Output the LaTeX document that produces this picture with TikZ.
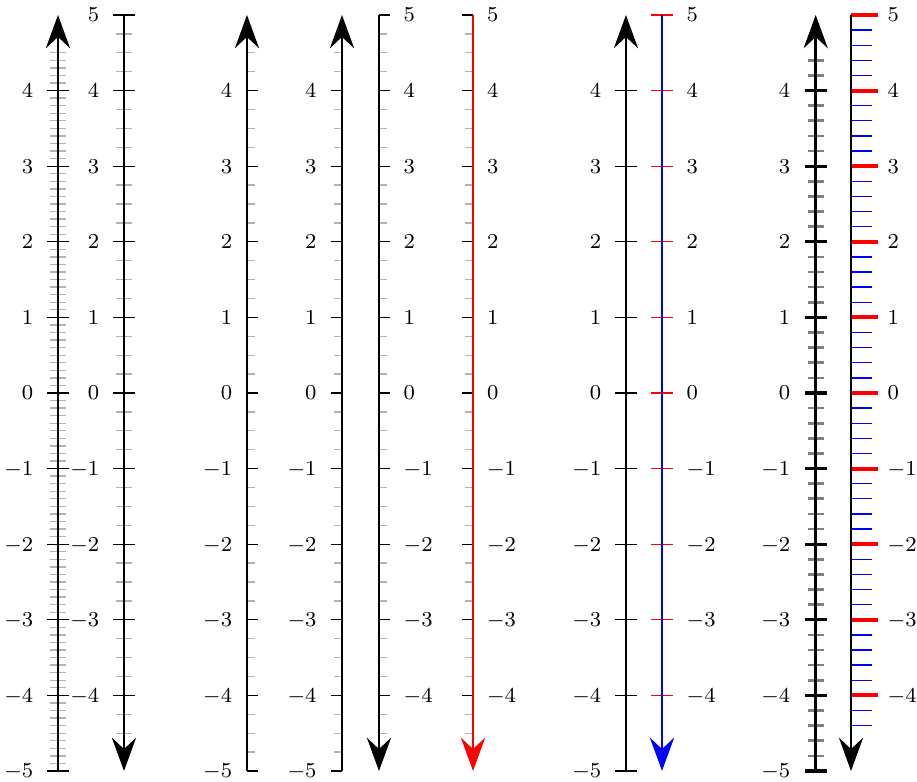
\documentclass[tikz,border=0pt]{standalone}
\usepackage{amsmath}
\usetikzlibrary{arrows.meta}

\begin{document}
\begin{tikzpicture}[
  axisline/.style={line width=1pt},
  tip/.style={-{Stealth[length=4.4mm,width=3.2mm,inset=1.5mm]}},
  major/.style={line width=0.5pt},
  minor/.style={gray!60,line width=0.5pt},
  lbl/.style={font=\footnotesize,inner sep=0pt,text depth=0pt}]
  \useasboundingbox (0,-5.146) rectangle (12.13,5.198);
  % 1: tenths on both sides, arrow up
  \foreach \i in {-49,...,45} {\draw[minor] (0.662,\i/10) -- (0.872,\i/10);}
  \foreach \y in {-5,...,4} {\draw[major] (0.627,\y) -- (0.907,\y);
    \node[lbl,anchor=east] (a\y) at (0.447,\y) {$\y$};}
  \coordinate (a1) at (0.767,-5); \coordinate (a2) at (0.767,5);
  \draw[axisline,tip] (a1) -- (a2);
  % 2: quarters on both sides, arrow down
  \foreach \i in {-18,...,19} {\draw[minor] (1.535,\i/4) -- (1.745,\i/4);}
  \foreach \y in {-4,...,5} {\draw[major] (1.495,\y) -- (1.785,\y);
    \node[lbl,anchor=east] (b\y) at (1.320,\y) {$\y$};}
  \coordinate (b1) at (1.640,5); \coordinate (b2) at (1.640,-5);
  \draw[axisline,tip] (b1) -- (b2);
  % 3: ticks right, arrow up
  \foreach \i in {-19,...,18} {\draw[minor] (3.267,\i/4) -- (3.367,\i/4);}
  \foreach \y in {-5,...,4} {\draw[major] (3.267,\y) -- (3.412,\y);
    \node[lbl,anchor=east] (c\y) at (3.077,\y) {$\y$};}
  \coordinate (c1) at (3.267,-5); \coordinate (c2) at (3.267,5);
  \draw[axisline,tip] (c1) -- (c2);
  % 4: ticks left, arrow up
  \foreach \i in {-19,...,18} {\draw[minor] (4.424,\i/4) -- (4.524,\i/4);}
  \foreach \y in {-5,...,4} {\draw[major] (4.384,\y) -- (4.524,\y);
    \node[lbl,anchor=east] (d\y) at (4.194,\y) {$\y$};}
  \coordinate (d1) at (4.524,-5); \coordinate (d2) at (4.524,5);
  \draw[axisline,tip] (d1) -- (d2);
  % 5: ticks right, arrow down
  \foreach \i in {-18,...,19} {\draw[minor] (5.013,\i/4) -- (5.113,\i/4);}
  \foreach \y in {-4,...,5} {\draw[major] (5.013,\y) -- (5.158,\y);
    \node[lbl,anchor=west] (e\y) at (5.333,\y) {$\y$};}
  \coordinate (e1) at (5.013,5); \coordinate (e2) at (5.013,-5);
  \draw[axisline,tip] (e1) -- (e2);
  % 6: red, ticks left, arrow down
  \foreach \i in {-18,...,19} {\draw[minor] (6.157,\i/4) -- (6.257,\i/4);}
  \foreach \y in {-4,...,5} {\draw[major] (6.117,\y) -- (6.257,\y);
    \node[lbl,anchor=west] (f\y) at (6.437,\y) {$\y$};}
  \coordinate (f1) at (6.257,5); \coordinate (f2) at (6.257,-5);
  \draw[axisline,tip,red] (f1) -- (f2);
  % 7: majors only, arrow up
  \foreach \y in {-5,...,4} {\draw[major] (8.140,\y) -- (8.420,\y);
    \node[lbl,anchor=east] (g\y) at (7.960,\y) {$\y$};}
  \coordinate (g1) at (8.280,-5); \coordinate (g2) at (8.280,5);
  \draw[axisline,tip] (g1) -- (g2);
  % 8: blue with red majors, arrow down
  \foreach \y in {-4,...,5} {\draw[major,red] (8.617,\y) -- (8.897,\y);
    \node[lbl,anchor=west] (h\y) at (9.077,\y) {$\y$};}
  \coordinate (h1) at (8.757,5); \coordinate (h2) at (8.757,-5);
  \draw[axisline,tip,blue] (h1) -- (h2);
  % 9: thick ticks, fifths, arrow up
  \foreach \i in {-24,...,22} {\draw[gray,line width=1pt] (10.685,\i/5) -- (10.895,\i/5);}
  \foreach \y in {-5,...,4} {\draw[line width=1.2pt] (10.645,\y) -- (10.935,\y);
    \node[lbl,anchor=east] (i\y) at (10.460,\y) {$\y$};}
  \coordinate (i1) at (10.790,-5); \coordinate (i2) at (10.790,5);
  \draw[axisline,tip] (i1) -- (i2);
  % 10: red majors, blue fifths on the right, arrow down
  \foreach \i in {-22,...,24} {\draw[blue,line width=0.5pt] (11.257,\i/5) -- (11.537,\i/5);}
  \foreach \y in {-4,...,5} {\draw[red,line width=1.5pt] (11.257,\y) -- (11.617,\y);
    \node[lbl,anchor=west] (j\y) at (11.735,\y) {$\y$};}
  \coordinate (j1) at (11.257,5); \coordinate (j2) at (11.257,-5);
  \draw[axisline,tip] (j1) -- (j2);
\end{tikzpicture}
\end{document}
